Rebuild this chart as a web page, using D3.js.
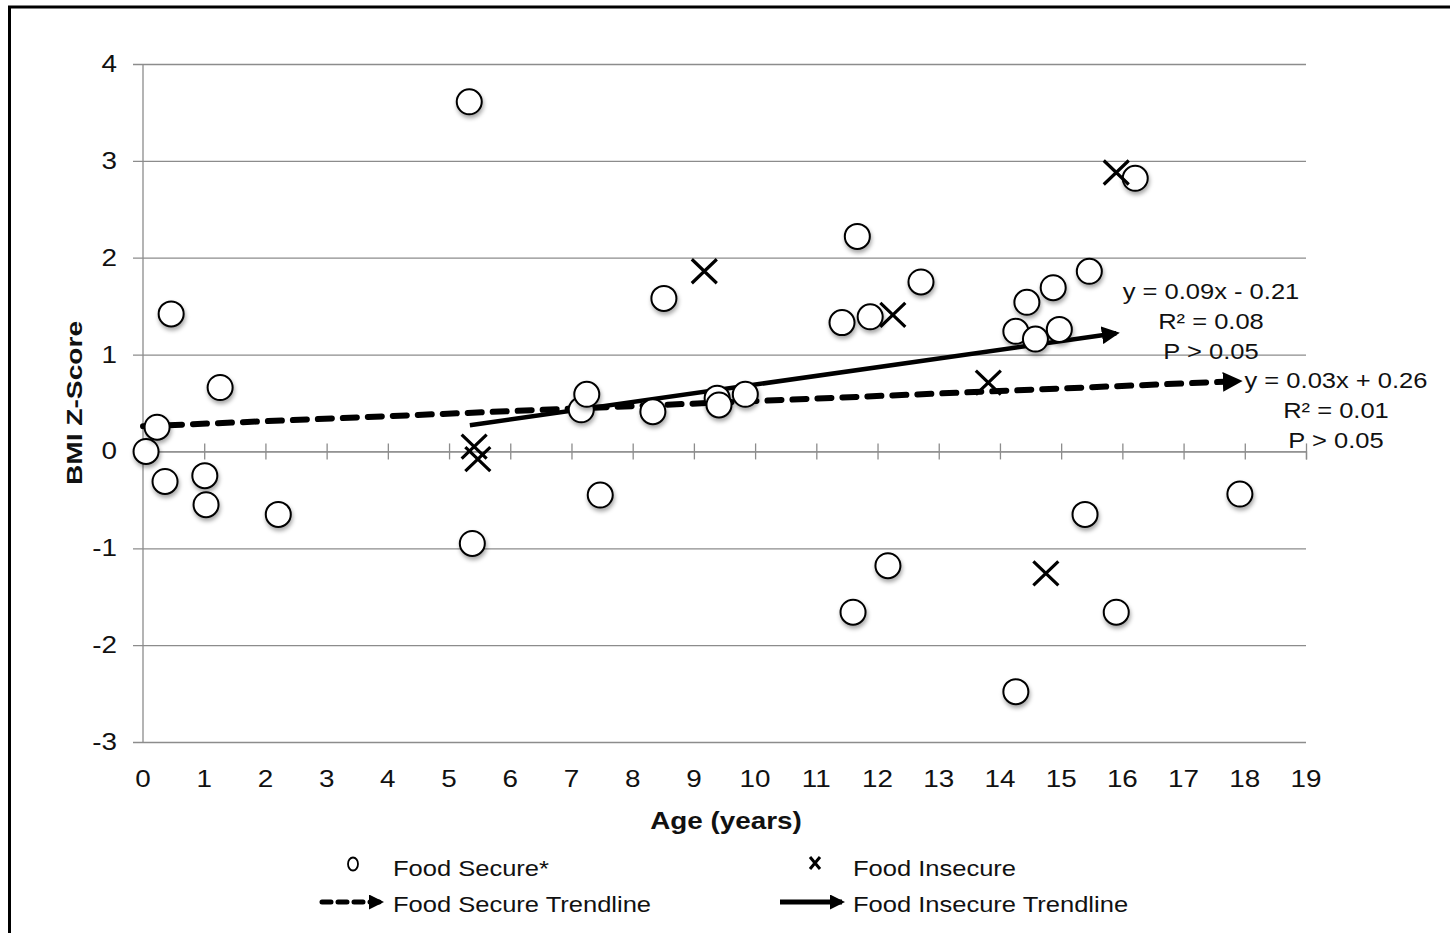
<!DOCTYPE html>
<html>
<head>
<meta charset="utf-8">
<script src="https://cdn.jsdelivr.net/npm/d3@7"></script>
<style>
  body { margin: 0; background: #fff; }
  text { font-family: "Liberation Sans", Arial, sans-serif; fill: #111; }
</style>
</head>
<body>
<script>
// BMI z-score vs age, food secure / insecure

// food secure (circles)
var secureAge = [0.05, 0.23, 0.36, 0.46, 1.01, 1.03, 1.26, 2.21, 5.33, 5.38,
  7.16, 7.25, 7.47, 8.33, 8.51, 9.38, 9.41, 9.84, 11.42, 11.6,
  11.67, 11.88, 12.17, 12.71, 14.26, 14.26, 14.44, 14.58, 14.87, 14.97,
  15.39, 15.46, 15.9, 16.21, 17.92];
var secureZ = [0.0, 0.25, -0.31, 1.42, -0.25, -0.55, 0.66, -0.65, 3.61, -0.95,
  0.43, 0.59, -0.45, 0.41, 1.58, 0.55, 0.48, 0.59, 1.33, -1.66,
  2.22, 1.39, -1.18, 1.75, 1.24, -2.48, 1.54, 1.16, 1.69, 1.26,
  -0.65, 1.86, -1.66, 2.82, -0.44];

// food insecure (crosses)
var insecureAge = [5.41, 5.47, 9.17, 12.25, 13.81, 14.75, 15.9];
var insecureZ = [0.05, -0.08, 1.86, 1.41, 0.71, -1.26, 2.88];

// trendlines: [x start, x end], [slope, intercept]
var secureTrendX = [0, 17.9];
var secureTrendFit = [0.026, 0.26];
var insecureTrendX = [5.34, 15.9];
var insecureTrendFit = [0.09, -0.21];

var secureLabel = ["y = 0.03x + 0.26", "R² = 0.01", "P > 0.05"];
var insecureLabel = ["y = 0.09x - 0.21", "R² = 0.08", "P > 0.05"];

var xTicks = d3.range(0, 20);
var yTicks = d3.range(-3, 5);

var width = 1450;
var height = 933;
var stretch = 1.16; // text in the original is a bit wide

var svg = d3.select("body").append("svg")
  .attr("width", width)
  .attr("height", height);

var defs = svg.append("defs");

var shadow = defs.append("filter").attr("id", "shadow")
  .attr("x", "-50%").attr("y", "-50%").attr("width", "200%").attr("height", "200%");
shadow.append("feDropShadow")
  .attr("dx", 1).attr("dy", 3).attr("stdDeviation", 2)
  .attr("flood-color", "#000").attr("flood-opacity", 0.35);

function addArrow(id, size) {
  defs.append("marker")
    .attr("id", id)
    .attr("viewBox", "0 0 10 10")
    .attr("refX", 8).attr("refY", 5)
    .attr("markerWidth", size).attr("markerHeight", size)
    .attr("markerUnits", "strokeWidth")
    .attr("orient", "auto")
    .append("path").attr("d", "M0,0 L10,5 L0,10 Z").attr("fill", "#000");
}
addArrow("arrow", 4.0);
addArrow("arrow2", 3.3);
addArrow("arrowLeg", 3.0);

// text helper, stretched sideways
function label(g, txt, px, py, size, anchor, weight) {
  return g.append("text")
    .attr("transform", "translate(" + px + "," + py + ") scale(" + stretch + ",1)")
    .attr("text-anchor", anchor || "start")
    .attr("font-size", size)
    .attr("font-weight", weight || "normal")
    .text(txt);
}

// outer frame (right / bottom edges run off the page)
svg.append("rect")
  .attr("x", 9.5).attr("y", 7)
  .attr("width", 1460).attr("height", 960)
  .attr("fill", "none").attr("stroke", "#000").attr("stroke-width", 3);

var x = d3.scaleLinear().domain([0, 19]).range([143, 1306]);
var y = d3.scaleLinear().domain([-3, 4]).range([742, 64]);

// horizontal gridlines (with left tick stubs)
svg.append("g")
  .attr("transform", "translate(143,0)")
  .call(d3.axisLeft(y).tickValues(yTicks).tickSize(-(1306 - 143)).tickFormat(""))
  .call(function(g) {
    g.select(".domain").remove();
    g.selectAll("line").attr("stroke", "#8c8c8c").attr("stroke-width", 1.3).attr("x1", -10);
  });

// y axis line
svg.append("line")
  .attr("x1", 143).attr("x2", 143)
  .attr("y1", y(4)).attr("y2", y(-3))
  .attr("stroke", "#8c8c8c").attr("stroke-width", 1.3);

// y tick labels
var yLab = svg.append("g");
yTicks.forEach(function(d) { label(yLab, d, 117, y(d) + 8, 24, "end"); });

// x axis through zero with crossing ticks
svg.append("g")
  .attr("transform", "translate(0," + y(0) + ")")
  .call(d3.axisBottom(x).tickValues(xTicks).tickSize(8).tickFormat(""))
  .call(function(g) {
    g.select(".domain").attr("stroke", "#8c8c8c").attr("stroke-width", 1.3);
    g.selectAll(".tick line").attr("stroke", "#8c8c8c").attr("stroke-width", 1.3).attr("y1", -8);
  });

// x tick labels along the bottom
var xLab = svg.append("g");
xTicks.forEach(function(d) { label(xLab, d, x(d), 787, 24, "middle"); });

// axis titles
label(svg, "Age (years)", 726, 829, 24, "middle", "bold");

svg.append("text")
  .attr("transform", "translate(82,403) rotate(-90) scale(1.28,1)")
  .attr("text-anchor", "middle")
  .attr("font-size", 22).attr("font-weight", "bold")
  .text("BMI Z-Score");

// trendlines
function trendPoints(xs, fit) {
  return xs.map(function(v) { return [x(v), y(fit[0] * v + fit[1])]; });
}
var line = d3.line();

svg.append("path")
  .attr("d", line(trendPoints(secureTrendX, secureTrendFit)))
  .attr("fill", "none").attr("stroke", "#000")
  .attr("stroke-width", 6)
  .attr("stroke-linecap", "round")
  .attr("stroke-dasharray", "14,11")
  .attr("marker-end", "url(#arrow2)");

svg.append("path")
  .attr("d", line(trendPoints(insecureTrendX, insecureTrendFit)))
  .attr("fill", "none").attr("stroke", "#000")
  .attr("stroke-width", 4.5)
  .attr("marker-end", "url(#arrow)");

// food secure circles
svg.append("g").selectAll("circle")
  .data(secureAge.map(function(a, i) { return [a, secureZ[i]]; }))
  .enter().append("circle")
    .attr("cx", function(d) { return x(d[0]); })
    .attr("cy", function(d) { return y(d[1]); })
    .attr("r", 12.5)
    .attr("fill", "#fff")
    .attr("stroke", "#000")
    .attr("stroke-width", 2)
    .attr("filter", "url(#shadow)");

// food insecure crosses
function crossPath(h, w) {
  return "M" + (-w) + "," + (-h) + "L" + w + "," + h + "M" + w + "," + (-h) + "L" + (-w) + "," + h;
}
svg.append("g").selectAll("path")
  .data(insecureAge.map(function(a, i) { return [a, insecureZ[i]]; }))
  .enter().append("path")
    .attr("transform", function(d) { return "translate(" + x(d[0]) + "," + y(d[1]) + ")"; })
    .attr("d", crossPath(12, 12.5))
    .attr("fill", "none")
    .attr("stroke", "#000")
    .attr("stroke-width", 3.2);

// equation labels
var eq = svg.append("g");
insecureLabel.forEach(function(t, i) { label(eq, t, 1211, 299 + i * 30, 22, "middle"); });
secureLabel.forEach(function(t, i) { label(eq, t, 1336, 388 + i * 30, 22, "middle"); });

// legend
var legend = svg.append("g");

legend.append("ellipse")
  .attr("cx", 353).attr("cy", 864)
  .attr("rx", 5).attr("ry", 6.5)
  .attr("fill", "#fff").attr("stroke", "#000").attr("stroke-width", 1.8);
legend.append("path")
  .attr("transform", "translate(815,863)")
  .attr("d", crossPath(6, 5))
  .attr("fill", "none").attr("stroke", "#000").attr("stroke-width", 3);

legend.append("line")
  .attr("x1", 322).attr("x2", 381).attr("y1", 902).attr("y2", 902)
  .attr("stroke", "#000").attr("stroke-width", 5)
  .attr("stroke-linecap", "round")
  .attr("stroke-dasharray", "9,7")
  .attr("marker-end", "url(#arrowLeg)");
legend.append("line")
  .attr("x1", 780).attr("x2", 842).attr("y1", 902).attr("y2", 902)
  .attr("stroke", "#000").attr("stroke-width", 5)
  .attr("marker-end", "url(#arrowLeg)");

label(legend, "Food Secure*", 393, 876, 22);
label(legend, "Food Insecure", 853, 876, 22);
label(legend, "Food Secure Trendline", 393, 912, 22);
label(legend, "Food Insecure Trendline", 853, 912, 22);
</script>
</body>
</html>
